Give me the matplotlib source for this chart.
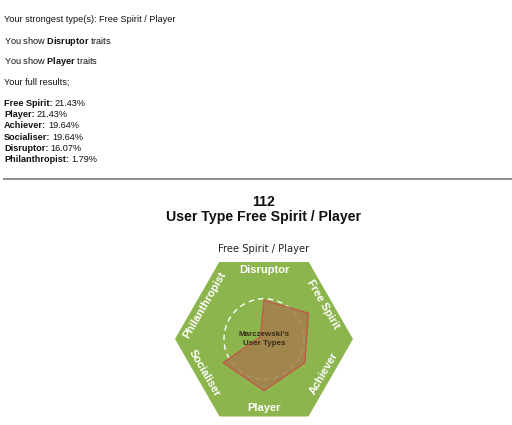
import matplotlib
matplotlib.use('Agg')
import matplotlib.pyplot as plt
import numpy as np
from matplotlib.patches import Polygon, Circle
from matplotlib.lines import Line2D

plt.rcParams['mathtext.fontset'] = 'custom'
plt.rcParams['mathtext.rm'] = 'Liberation Sans'
plt.rcParams['mathtext.bf'] = 'Liberation Sans:bold'

# ---------------- data ----------------
strongest = 'Free Spirit / Player'
trait_types = ['Disruptor', 'Player']
result_types = ['Free Spirit', 'Player', 'Achiever', 'Socialiser', 'Disruptor', 'Philanthropist']
result_scores = [21.43, 21.43, 19.64, 19.64, 16.07, 1.79]
code = '112'
radar_order = ['Disruptor', 'Free Spirit', 'Achiever', 'Player', 'Socialiser', 'Philanthropist']
center_label = "Marczewski's\nUser Types"

# ---------------- figure ----------------
W, H = 512, 425
fig = plt.figure(figsize=(W / 100, H / 100), dpi=100)
fig.patch.set_facecolor('white')
renderer = fig.canvas.get_renderer()
SANS = 'Liberation Sans'
FS = 6.6


def T(x, y, s, **kw):
    return fig.text(x / W, 1 - y / H, s, **kw)


def bf(s):
    return r'$\mathbf{' + s.replace(' ', r'\ ') + '}$'


def line(y, s, x=4, **kw):
    return T(x, y, s, fontsize=FS, family=SANS, va='center', ha='left', color='#111111', **kw)


line(20, 'Your strongest type(s): ' + strongest)
for i, tt in enumerate(trait_types):
    line(41 + 21 * i, 'You show ' + bf(tt) + ' traits')
line(82, 'Your full results;')
for i, (name, sc) in enumerate(zip(result_types, result_scores)):
    y = 103.5 + 11.2 * i
    t = line(y, name + ':', fontweight='bold')
    w = t.get_window_extent(renderer).width
    line(y, '%.2f%%' % sc, x=4 + w + 2.0)

fig.add_artist(Line2D([4 / W, 511 / W], [1 - 179 / H, 1 - 179 / H], color='#8c8c8c', lw=1.4))

T(264, 202, code, fontsize=10.2, family=SANS, fontweight='bold', ha='center', va='center', color='#111111')
T(264, 217, 'User Type ' + strongest, fontsize=10.2, family=SANS, fontweight='bold',
  ha='center', va='center', color='#111111')
T(264, 249, strongest, fontsize=7.2, family='DejaVu Sans', ha='center', va='center', color='#222222')

# ---------------- hexagon radar ----------------
px_per_unit = 2.4
cx, cy = 264, 339
R = 89 / px_per_unit
ax = fig.add_axes([(cx - 89) / W, (H - cy - 77.5) / H, 178 / W, 155 / H])
ax.set_xlim(-R, R)
ax.set_ylim(-R * np.sqrt(3) / 2, R * np.sqrt(3) / 2)
ax.axis('off')

hex_ang = np.deg2rad(np.arange(0, 360, 60))
ax.add_patch(Polygon(np.c_[R * np.cos(hex_ang), R * np.sin(hex_ang)], closed=True,
                     fc='#8db54e', ec='none', zorder=1))

score_of = dict(zip(result_types, result_scores))
vals = np.array([score_of[t] for t in radar_order])
angs = np.deg2rad(90 - 60 * np.arange(len(radar_order)))

ax.add_patch(Circle((0, 0), 100 / len(result_types), fill=False, ec='white', lw=1.0,
                    ls=(0, (4, 3)), zorder=2))

xs = vals * np.cos(angs)
ys = vals * np.sin(angs)
ax.fill(xs, ys, fc='#a47d4c', alpha=0.85, ec='none', zorder=3)
ax.plot(np.r_[xs, xs[0]], np.r_[ys, ys[0]], color='#c4564a', lw=0.9, zorder=4)

for t, a in zip(radar_order, angs):
    deg = np.rad2deg(a) - 90
    deg = (deg + 180) % 360 - 180
    if deg <= -90:
        deg += 180
    elif deg > 90:
        deg -= 180
    rr = 28.6
    ax.text(rr * np.cos(a), rr * np.sin(a), t, rotation=deg, rotation_mode='anchor',
            ha='center', va='center', color='white', fontsize=8, family=SANS,
            fontweight='bold', zorder=5)

ax.text(0, 0, center_label, ha='center', va='center', fontsize=5.8, family=SANS,
        fontweight='bold', color='#3a2c1a', linespacing=1.25, zorder=5)

fig.savefig('out.png', dpi=100, facecolor='white')
